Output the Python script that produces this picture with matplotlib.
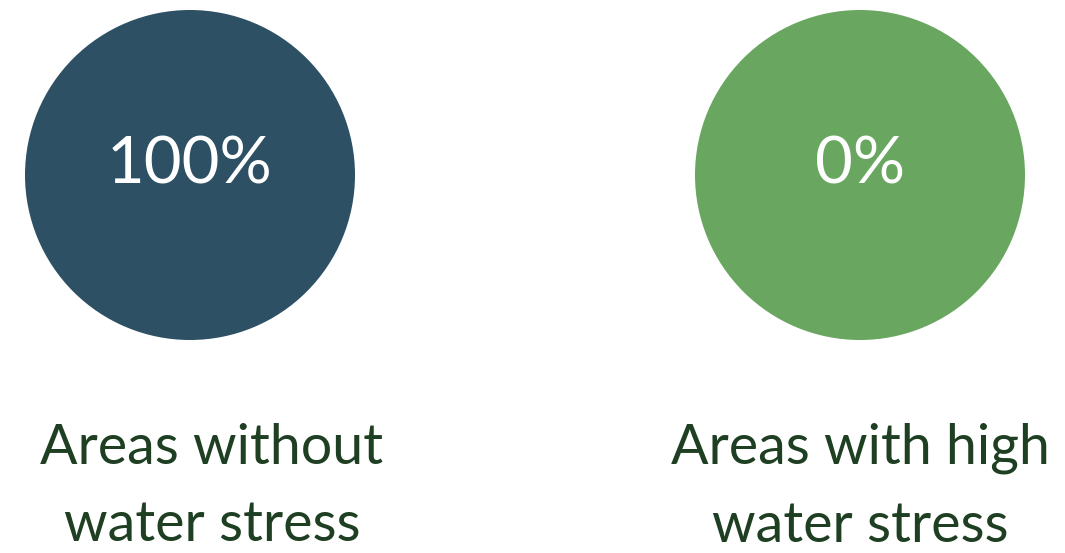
import matplotlib.pyplot as plt
from matplotlib.patches import Circle

# Daten
labels = ["Areas without\nwater stress", "Areas with high\nwater stress"]
shares = [100, 0]
colors = ["#2d5064", "#69a660"]
text_color = "#1e3f22"

# Layout (Pixelkoordinaten)
centers_x = [190, 860]
label_x = [212, 860]
center_y = 175
radius = 165

fig = plt.figure(figsize=(10.65, 5.53), dpi=100)
ax = fig.add_axes([0, 0, 1, 1])
ax.set_xlim(0, 1065)
ax.set_ylim(553, 0)
ax.set_aspect("equal")
ax.axis("off")

for cx, lx, share, lab, col in zip(centers_x, label_x, shares, labels, colors):
    ax.add_patch(Circle((cx, center_y), radius, color=col, lw=0))
    ax.text(cx, 165, f"{share}%", color="white", fontsize=47, family="Lato",
            ha="center", va="center")
    ax.text(lx, 487, lab, color=text_color, fontsize=40, family="Lato",
            ha="center", va="center", linespacing=1.65)

fig.savefig("out.png", dpi=100)
